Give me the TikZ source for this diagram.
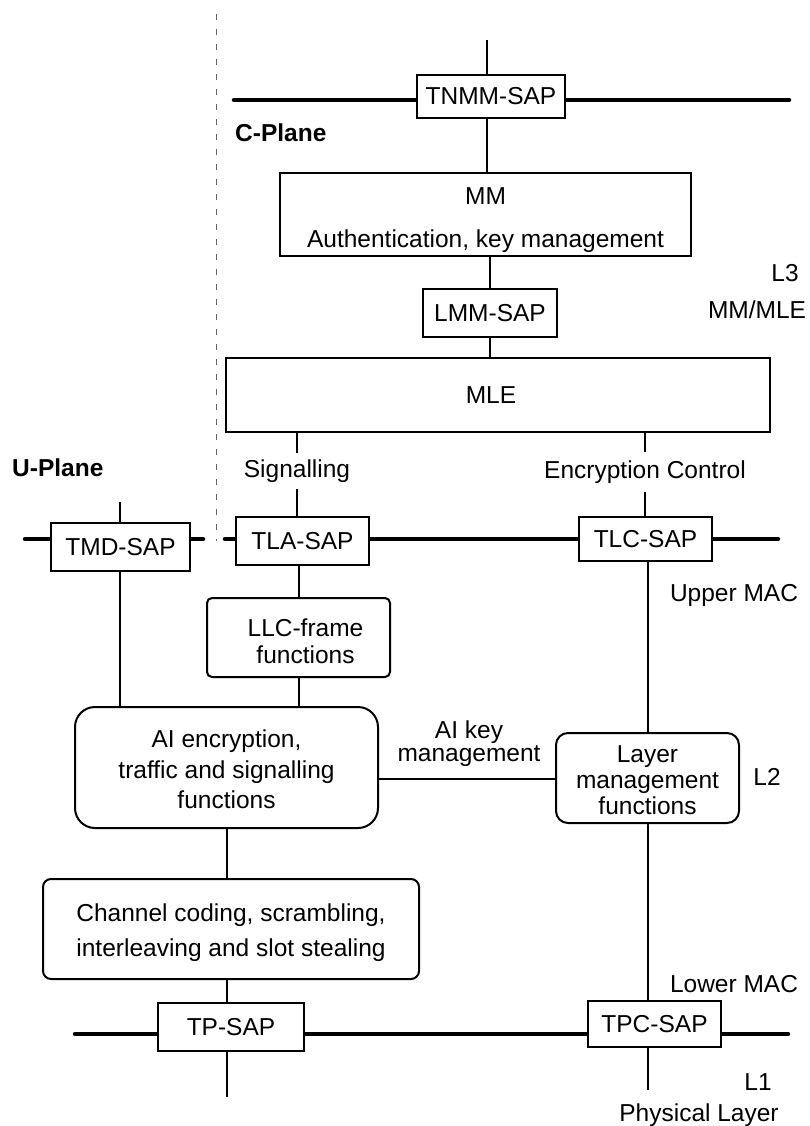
\documentclass[tikz,border=0pt]{standalone}
\usepackage{fontspec}
\setmainfont{Liberation Sans}
\usetikzlibrary{backgrounds}
\begin{document}
\begin{tikzpicture}[x=1pt,y=-1pt,
  every node/.style={font=\fontsize{24.5}{29}\selectfont, inner sep=0pt},
  fs/.style={font=\fontsize{24.5}{#1}\selectfont},
  box/.style={draw, line width=2pt, fill=white, align=center},
  bus/.style={line width=4.5pt, line cap=round},
  wire/.style={line width=2pt},
  planesep/.style={line width=1pt, black!60, dash pattern=on 6pt off 9pt},
  lab/.style={align=center}]
\useasboundingbox (0,0) rectangle (810,1126);

% boxes
\node[box, minimum width=148, minimum height=43] (tnmm) at (491,96.5) {TNMM-SAP};
\node[box, fs=43, minimum width=411, minimum height=83] (mm) at (485.5,214.5) {\rule{0pt}{28pt}MM\\Authentication, key management};
\node[box, minimum width=134, minimum height=48] (lmm) at (490,313) {LMM-SAP};
\node[box, minimum width=544, minimum height=74] (mle) at (498,395) {\hspace*{-14pt}MLE};
\node[box, minimum width=139, minimum height=48] (tmd) at (120.5,547) {TMD-SAP};
\node[box, minimum width=133, minimum height=48] (tla) at (302.5,541) {TLA-SAP};
\node[box, minimum width=133, minimum height=44] (tlc) at (645.5,539) {TLC-SAP};
\node[box, fs=27, rounded corners=5pt, minimum width=183, minimum height=79] (llc) at (298.5,637.5) {\rule{0pt}{26pt}\hspace*{14pt}LLC-frame\\\hspace*{14pt}functions};
\node[box, fs=30.5, rounded corners=20pt, minimum width=303, minimum height=121] (ai) at (226.5,767.5) {\rule{0pt}{22pt}AI encryption,\\traffic and signalling\\functions};
\node[box, fs=26, rounded corners=12pt, minimum width=183, minimum height=90] (layer) at (647.5,778) {\rule{0pt}{22pt}Layer\\management\\functions};
\node[box, fs=35, rounded corners=8pt, minimum width=376, minimum height=100] (cc) at (231,929) {\rule{0pt}{25pt}Channel coding, scrambling,\\interleaving and slot stealing};
\node[box, minimum width=146, minimum height=48] (tp) at (231,1027) {TP-SAP};
\node[box, minimum width=133, minimum height=46] (tpc) at (654.5,1024) {TPC-SAP};

% connector labels
\node[minimum height=36] (sig) at (297,471) {Signalling};
\node[minimum height=39] (enc) at (645,472) {Encryption Control};
\node[lab, fs=23] (aikey) at (469,743.5) {AI key\\management};

% layer labels
\node[anchor=west] (cplane) at (235,133) {\bfseries C-Plane};
\node[anchor=west] (uplane) at (12,468) {\bfseries U-Plane};
\node (l3) at (785,273) {L3};
\node (mmmle) at (757,310) {MM/MLE};
\node (umac) at (734,595) {Upper MAC};
\node (l2) at (767,777) {L2};
\node (lmac) at (734,984) {Lower MAC};
\node (l1) at (758,1082) {L1};
\node (phy) at (699,1115) {Physical Layer};

% free ends
\coordinate (c1) at (487,40);
\coordinate (tmdtop) at (120,502);
\coordinate (tpbot) at (226.5,1097);
\coordinate (tpcbot) at (647.5,1090);
\coordinate (keyy) at (0,779);
\coordinate (tbL) at (234,100);
\coordinate (tbR) at (789,100);
\coordinate (mbL) at (25,539);
\coordinate (mbA) at (203,539);
\coordinate (mbB) at (225,539);
\coordinate (mbR) at (778,539);
\coordinate (bbL) at (75,1034);
\coordinate (bbR) at (788,1034);
\coordinate (dtop) at (216,14);
\coordinate (dbot) at (216,541);

\begin{scope}[on background layer]
  \fill[white] (0,0) rectangle (810,1126);
  % plane separator
  \draw[planesep] (dtop) -- (dbot);
  % buses
  \draw[bus] (tbL) -- (tbR);
  \draw[bus] (mbL) -- (mbA);
  \draw[bus] (mbB) -- (mbR);
  \draw[bus] (bbL) -- (bbR);
  % C-plane
  \draw[wire] (c1) -- (c1 |- tnmm.north);
  \draw[wire] (tnmm.south -| c1) -- (mm.north -| c1);
  \draw[wire] (mm.south -| lmm) -- (lmm.north);
  \draw[wire] (lmm.south) -- (mle.north -| lmm);
  \draw[wire] (mle.south -| sig) -- (sig.north);
  \draw[wire] (sig.south) -- (tla.north -| sig);
  \draw[wire] (mle.south -| enc) -- (enc.north);
  \draw[wire] (enc.south) -- (tlc.north -| enc);
  % U-plane
  \draw[wire] (tmdtop) -- (tmdtop |- tmd.north);
  \draw[wire] (tmd.south -| tmdtop) -- (ai.north -| tmdtop);
  % L2
  \draw[wire] (tla.south -| llc) -- (llc.north);
  \draw[wire] (llc.south) -- (ai.north -| llc);
  \draw[wire] (tlc.south -| layer) -- (layer.north);
  \draw[wire] (ai.east |- keyy) -- (layer.west |- keyy);
  \draw[wire] (ai.south) -- (cc.north -| ai);
  \draw[wire] (cc.south -| ai) -- (tp.north -| ai);
  \draw[wire] (tp.south -| ai) -- (tpbot);
  \draw[wire] (layer.south) -- (tpc.north -| layer);
  \draw[wire] (tpc.south -| layer) -- (tpcbot);
\end{scope}
\end{tikzpicture}
\end{document}
